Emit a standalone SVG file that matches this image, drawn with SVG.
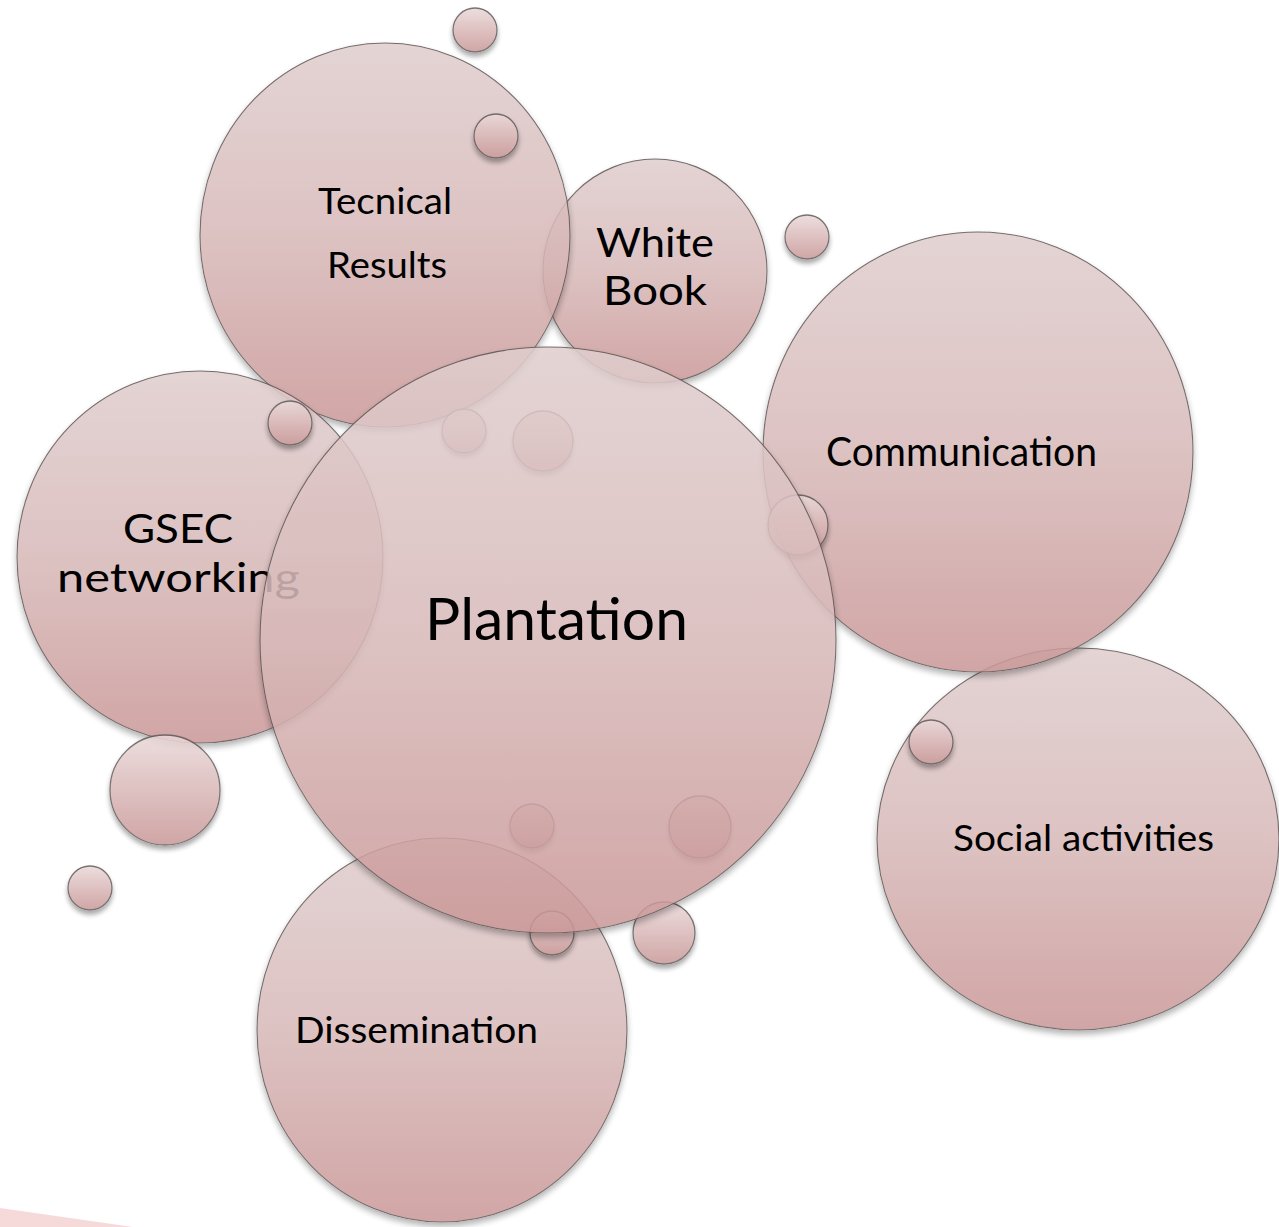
<svg xmlns="http://www.w3.org/2000/svg" width="1279" height="1227" viewBox="0 0 1279 1227">
  <style>
    .bub { opacity: 0.86; }
    .big { fill: url(#gBig); stroke: #5e5454; stroke-width: 1.1; filter: url(#sh); }
    .sm { fill: url(#gSm); stroke: #625a5a; stroke-width: 1.3; filter: url(#shs); }
    .lbl { font-family: Lato, "Open Sans", "Liberation Sans", sans-serif; fill: #000; }
  </style>
  <defs>
    <linearGradient id="gBig" x1="0" y1="0" x2="0" y2="1">
      <stop offset="0" stop-color="#e0cdcd"/>
      <stop offset="0.5" stop-color="#d8b9b9"/>
      <stop offset="1" stop-color="#ca9797"/>
    </linearGradient>
    <linearGradient id="gSm" x1="0" y1="0" x2="0" y2="1">
      <stop offset="0" stop-color="#ead8d8"/>
      <stop offset="1" stop-color="#c99797"/>
    </linearGradient>
    <filter id="sh" x="-6%" y="-6%" width="112%" height="116%">
      <feGaussianBlur in="SourceAlpha" stdDeviation="3"/>
      <feOffset dy="4" result="b"/>
      <feFlood flood-color="#000" flood-opacity="0.35"/>
      <feComposite in2="b" operator="in" result="s"/>
      <feComposite in="s" in2="SourceAlpha" operator="out" result="so"/>
      <feMerge><feMergeNode in="so"/><feMergeNode in="SourceGraphic"/></feMerge>
    </filter>
    <filter id="shs" x="-30%" y="-30%" width="160%" height="170%">
      <feGaussianBlur in="SourceAlpha" stdDeviation="2.5"/>
      <feOffset dy="4" result="b"/>
      <feFlood flood-color="#000" flood-opacity="0.4"/>
      <feComposite in2="b" operator="in" result="s"/>
      <feComposite in="s" in2="SourceAlpha" operator="out" result="so"/>
      <feMerge><feMergeNode in="so"/><feMergeNode in="SourceGraphic"/></feMerge>
    </filter>
  </defs>

  <rect width="1279" height="1227" fill="#ffffff"/>
  <polygon points="0,1208 133,1227 0,1227" fill="#f6dada"/>

  <g id="node-social">
    <g class="bub"><ellipse class="big" cx="1078" cy="839" rx="201" ry="191"/></g>
    <text class="lbl" x="953" y="851" font-size="36" textLength="261" lengthAdjust="spacingAndGlyphs">Social activities</text>
  </g>

  <g id="node-communication">
    <g class="bub"><ellipse class="big" cx="978" cy="452" rx="215" ry="220"/></g>
    <text class="lbl" x="826" y="466" font-size="40" textLength="271" lengthAdjust="spacingAndGlyphs">Communication</text>
  </g>

  <g id="node-whitebook">
    <g class="bub"><ellipse class="big" cx="655" cy="271" rx="112" ry="112"/></g>
    <text class="lbl" x="596" y="257" font-size="41" textLength="118" lengthAdjust="spacingAndGlyphs">White</text>
    <text class="lbl" x="603" y="305" font-size="41" textLength="104" lengthAdjust="spacingAndGlyphs">Book</text>
  </g>

  <g id="node-technical">
    <g class="bub"><ellipse class="big" cx="385" cy="235" rx="185" ry="192"/></g>
    <text class="lbl" x="318" y="214" font-size="37" textLength="134" lengthAdjust="spacingAndGlyphs">Tecnical</text>
    <text class="lbl" x="327" y="278" font-size="37" textLength="120" lengthAdjust="spacingAndGlyphs">Results</text>
  </g>

  <g id="node-gsec">
    <g class="bub"><ellipse class="big" cx="200" cy="557" rx="183" ry="186"/></g>
    <text class="lbl" x="123" y="543" font-size="41" textLength="110" lengthAdjust="spacingAndGlyphs">GSEC</text>
    <text class="lbl" x="57" y="592" font-size="41" textLength="243" lengthAdjust="spacingAndGlyphs">networking</text>
  </g>

  <g id="node-dissemination">
    <g class="bub"><ellipse class="big" cx="442" cy="1030" rx="185" ry="192"/></g>
    <text class="lbl" x="295" y="1043" font-size="36" textLength="243" lengthAdjust="spacingAndGlyphs">Dissemination</text>
  </g>

  <g id="small-bubbles">
    <g class="bub">
      <circle class="sm" cx="475" cy="30" r="22"/>
      <circle class="sm" cx="496" cy="136" r="22"/>
      <circle class="sm" cx="807" cy="237" r="22"/>
      <circle class="sm" cx="290" cy="423" r="22"/>
      <circle class="sm" cx="464" cy="431" r="22"/>
      <circle class="sm" cx="543" cy="441" r="30"/>
      <circle class="sm" cx="798" cy="525" r="30"/>
      <circle class="sm" cx="165" cy="790" r="55"/>
      <circle class="sm" cx="90" cy="888" r="22"/>
      <circle class="sm" cx="931" cy="742" r="22"/>
      <circle class="sm" cx="532" cy="826" r="22"/>
      <circle class="sm" cx="700" cy="827" r="31"/>
      <circle class="sm" cx="552" cy="933" r="22"/>
      <circle class="sm" cx="664" cy="933" r="31"/>
    </g>
  </g>

  <g id="node-plantation">
    <g class="bub"><ellipse class="big" cx="548" cy="640" rx="288" ry="293"/></g>
    <text class="lbl" x="425" y="640" font-size="58" textLength="263" lengthAdjust="spacingAndGlyphs">Plantation</text>
  </g>

  <g id="connectors"></g>
</svg>
